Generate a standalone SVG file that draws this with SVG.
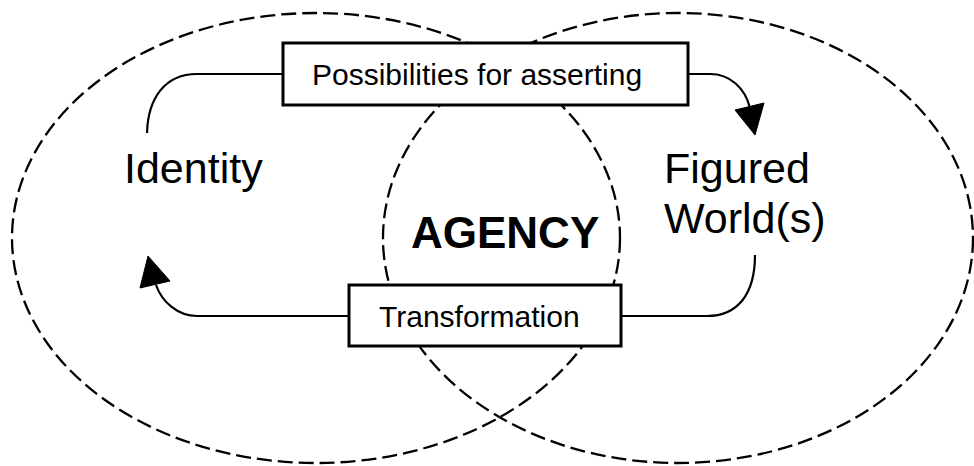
<svg xmlns="http://www.w3.org/2000/svg" width="974" height="466" viewBox="0 0 974 466">
<style>
.circle{fill:none;stroke:#000;stroke-width:2.3;stroke-dasharray:15 6}
.box{fill:#fff;stroke:#000;stroke-width:3}
.conn{fill:none;stroke:#000;stroke-width:2.2}
.head{fill:#000;stroke:#000;stroke-width:1;stroke-linejoin:miter}
.big{font-family:"Liberation Sans",Arial,sans-serif;font-size:43px;fill:#000}
.bold{font-family:"Liberation Sans",Arial,sans-serif;font-size:44px;font-weight:bold;fill:#000}
.small{font-family:"Liberation Sans",Arial,sans-serif;font-size:30px;fill:#000}
</style>
<rect width="974" height="466" fill="#fff"/>
<g id="identity">
<ellipse class="circle" cx="316" cy="238" rx="304" ry="225"/>
<text class="big" x="124" y="183">Identity</text>
</g>
<g id="figured-worlds">
<ellipse class="circle" cx="678" cy="238" rx="295" ry="225"/>
<text class="big" x="664" y="183">Figured</text>
<text class="big" x="664" y="233">World(s)</text>
</g>
<g id="agency">
<text class="bold" x="411" y="248">AGENCY</text>
</g>
<g id="connectors">
<path class="conn" d="M283,74 H197 C165,74 148,98 147,133"/>
<path class="conn" d="M688,74 H710 C730,74 745,88 750,108"/>
<polygon class="head" points="735,110 764,103 755,135"/>
<path class="conn" d="M621,316 H707 C737,316 755,295 755,255"/>
<path class="conn" d="M349,316 H197 C178,316 162,302 156,285"/>
<polygon class="head" points="148,256 140,288 170,281"/>
</g>
<g id="possibilities">
<rect class="box" x="283" y="43" width="405" height="62"/>
<text class="small" x="312" y="85">Possibilities for asserting</text>
</g>
<g id="transformation">
<rect class="box" x="349" y="285" width="272" height="61"/>
<text class="small" x="379" y="327">Transformation</text>
</g>
</svg>
